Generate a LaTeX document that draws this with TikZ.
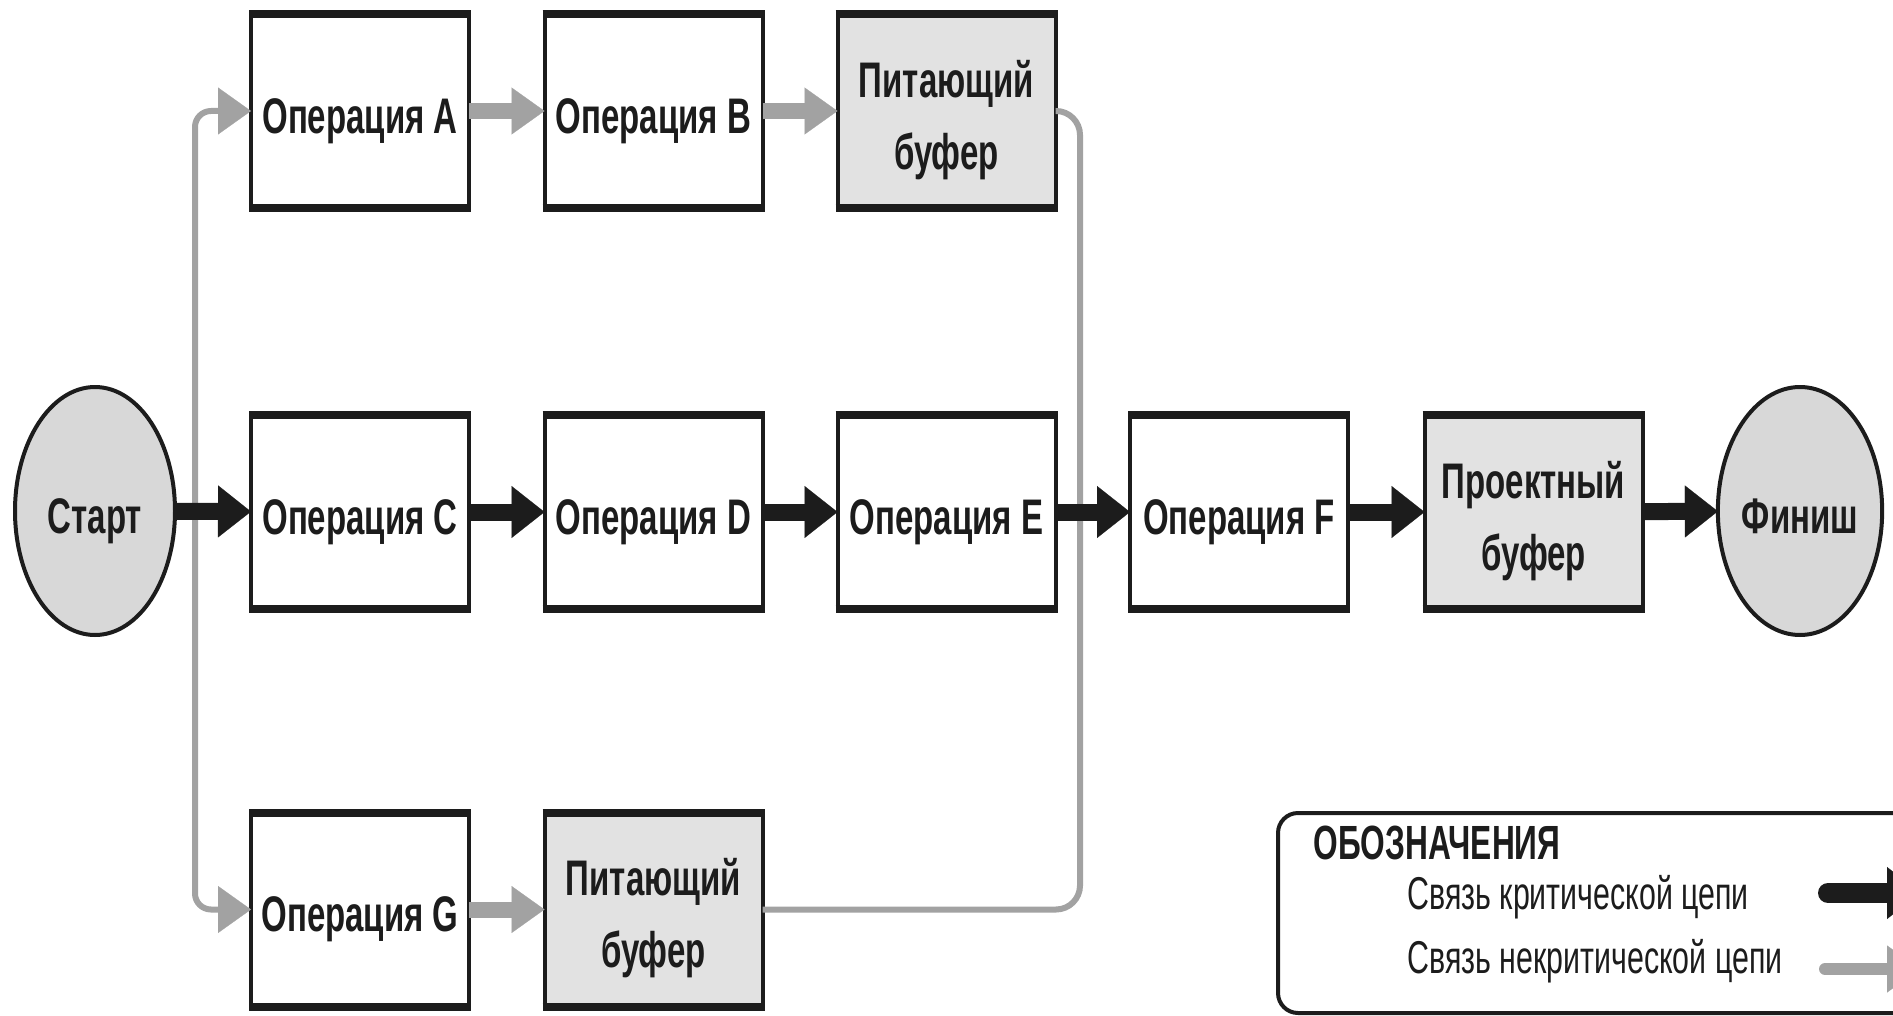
\documentclass[tikz,border=0pt]{standalone}
\usepackage{fontspec}
\setmainfont{Liberation Sans}[FakeStretch=0.66]
\usetikzlibrary{arrows.meta,shapes.geometric}
\definecolor{ink}{RGB}{28,28,28}
\definecolor{linkgray}{RGB}{162,162,162}
\definecolor{bufferfill}{RGB}{226,226,226}
\definecolor{termfill}{RGB}{216,216,216}
% box captions sit a little below the geometric centre
\newcommand\boxlines[1]{\raisebox{-4pt}[\height][\depth]{\begin{tabular}{@{}c@{}}#1\end{tabular}}}
\begin{document}
\begin{tikzpicture}[x=0.5pt,y=-0.5pt,
  boxfont/.style={font=\bfseries\fontsize{25}{36}\selectfont, text=ink},
  opbox/.style={draw=ink, line width=2pt, outer sep=0pt, minimum width=109pt,
    minimum height=97pt, inner sep=0pt, boxfont},
  bufbox/.style={opbox, fill=bufferfill},
  terminal/.style={ellipse, draw=ink, line width=2pt, outer sep=0pt, fill=termfill,
    minimum width=80pt, minimum height=124pt, inner sep=0pt, boxfont},
  crit/.style={draw=ink, line width=8.5pt,
    -{Triangle[width=26pt,length=16.5pt,line width=0.1pt]}},
  noncrit/.style={draw=linkgray, line width=8pt,
    -{Triangle[width=23.5pt,length=16.5pt,line width=0.1pt]}},
  feedline/.style={draw=linkgray, line width=3pt, rounded corners=8pt},
  feedarrow/.style={feedline, -{Triangle[width=23.5pt,length=16.5pt,line width=0.1pt]}},
  keytext/.style={anchor=base west, font=\fontsize{23}{28}\selectfont, text=ink, inner sep=0pt},
]
\useasboundingbox (0,0) rectangle (1893,1016);
\clip (0,0) rectangle (1893,1016);

% terminals
\node[terminal] (start) at (95,511) {\boxlines{Старт}};
\node[terminal] (fin) at (1800,511) {\boxlines{Финиш}};

% operations and buffers
\node[opbox]  (A)  at (360,111)    {\boxlines{Операция A}};
\node[opbox]  (B)  at (653.5,111)  {\boxlines{Операция B}};
\node[bufbox] (P1) at (946.5,111)  {\boxlines{Питающий\\буфер}};
\node[opbox]  (C)  at (360,512)    {\boxlines{Операция C}};
\node[opbox]  (D)  at (653.5,512)  {\boxlines{Операция D}};
\node[opbox]  (E)  at (946.5,512)  {\boxlines{Операция E}};
\node[opbox]  (F)  at (1239,512)   {\boxlines{Операция F}};
\node[bufbox] (PB) at (1533.5,512) {\boxlines{Проектный\\буфер}};
\node[opbox]  (G)  at (360,909.5)  {\boxlines{Операция G}};
\node[bufbox] (P2) at (653.5,909.5){\boxlines{Питающий\\буфер}};

% heavy top and bottom edges of the boxes
\foreach \n in {A,B,P1,C,D,E,F,PB,G,P2}{
  \draw[ink, line width=4pt] ([xshift=-1pt]\n.north west) -- ([xshift=1pt]\n.north east);
  \draw[ink, line width=4pt] ([xshift=-1pt]\n.south west) -- ([xshift=1pt]\n.south east);
}

% feeding chains (grey)
\coordinate (split) at (195,512);
\coordinate (merge) at (1080,512);
\draw[feedarrow] (split) |- (A.west);
\draw[feedarrow] (split) |- (G.west);
\draw[feedline, rounded corners=12pt] (P1.east) -| (merge) |- (P2.east);
\draw[noncrit] (A) -- (B);
\draw[noncrit] (B) -- (P1);
\draw[noncrit] (G) -- (P2);

% critical chain (black)
\draw[crit] (start) -- (C);
\draw[crit] (C) -- (D);
\draw[crit] (D) -- (E);
\draw[crit] (E) -- (F);
\draw[crit] (F) -- (PB);
\draw[crit] (PB) -- (fin);

% key
\node[draw=ink, line width=2pt, rounded corners=10pt, anchor=north west,
  minimum width=340pt, minimum height=100pt, inner sep=0pt] (key) at (1276,811) {};
\node[anchor=base west, inner sep=0pt, text=ink, font=\bfseries\fontsize{24}{28}\selectfont]
  (keytitle) at (1313,859) {ОБОЗНАЧЕНИЯ};
\node[keytext] (k1) at (1407,909) {Связь критической цепи};
\node[keytext] (k2) at (1407,973) {Связь некритической цепи};
\coordinate (k1a) at (1828,893);
\coordinate (k1b) at (1920,893);
\coordinate (k2a) at (1825,969);
\coordinate (k2b) at (1920,969);
\draw[crit, line width=10pt, line cap=round] (k1a) -- (k1b);
\draw[noncrit, line width=6pt, line cap=round] (k2a) -- (k2b);
\end{tikzpicture}
\end{document}
